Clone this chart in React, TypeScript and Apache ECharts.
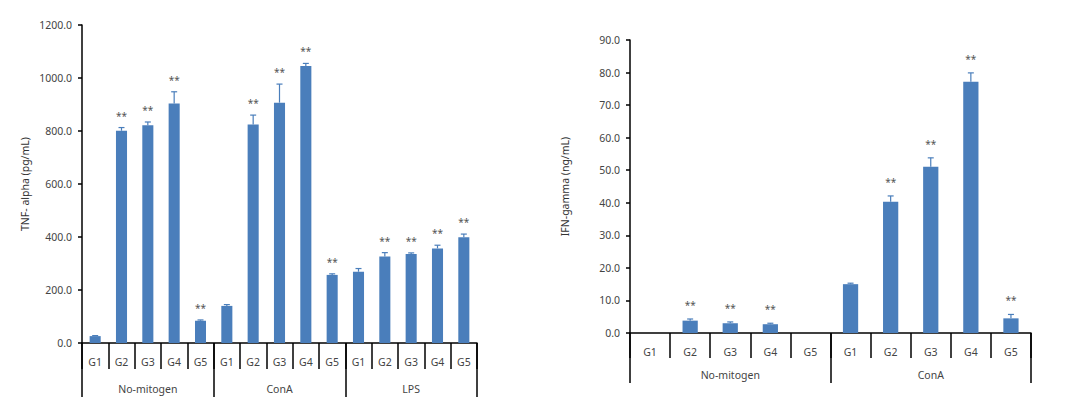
import React, { useEffect, useRef } from "react";
import * as echarts from "echarts";

const groupCats = ["G1", "G2", "G3", "G4", "G5"];
const tnfGroups = ["No-mitogen", "ConA", "LPS"];
const ifnGroups = ["No-mitogen", "ConA"];

// TNF-alpha (pg/mL)
const tnfNoMitogen = [26, 801, 822, 904, 84];
const tnfNoMitogenErr = [2, 12, 12, 44, 3];
const tnfConA = [140, 825, 907, 1045, 257];
const tnfConAErr = [5, 35, 70, 10, 4];
const tnfLPS = [269, 326, 336, 357, 399];
const tnfLPSErr = [12, 15, 4, 12, 12];
const tnfStars = [false, true, true, true, true, false, true, true, true, true, false, true, true, true, true];

// IFN-gamma (ng/mL)
const ifnNoMitogen: (number | null)[] = [null, 3.8, 3.0, 2.7, null];
const ifnNoMitogenErr = [0, 0.5, 0.4, 0.3, 0];
const ifnConA = [15.0, 40.3, 51.1, 77.2, 4.5];
const ifnConAErr = [0.3, 1.8, 2.7, 2.7, 1.2];
const ifnStars = [false, true, true, true, false, false, true, true, true, true];

const BAR = "#4a7ebb";
const FONT = "Noto Sans";

function errSeries(xAxisIndex: number, yAxisIndex: number, vals: (number | null)[], errs: number[], stars: boolean[], off: number) {
  return {
    type: "custom",
    xAxisIndex,
    yAxisIndex,
    encode: { x: 0, y: 1 },
    z: 5,
    data: vals.map((v, i) => [i, v == null ? 0 : v, errs[i], stars[i] ? 1 : 0]),
    renderItem: (params: any, api: any) => {
      const x = api.value(0);
      const v = api.value(1);
      const e = api.value(2);
      const s = api.value(3);
      const base = api.coord([x, v]);
      const top = api.coord([x, v + e]);
      const children: any[] = [];
      if (e > 0) {
        children.push({ type: "line", shape: { x1: base[0], y1: base[1], x2: top[0], y2: top[1] }, style: { stroke: BAR, lineWidth: 1.2 } });
        children.push({ type: "line", shape: { x1: top[0] - 3, y1: top[1], x2: top[0] + 3, y2: top[1] }, style: { stroke: BAR, lineWidth: 1.2 } });
      }
      if (s) {
        children.push({
          type: "text",
          style: { text: "**", x: top[0], y: top[1] - off, align: "center", verticalAlign: "middle", fontSize: 10, fill: "#555", fontFamily: FONT },
        });
      }
      return { type: "group", children };
    },
  };
}

const axisBlack = { color: "#000", width: 1.5 };

export default function App() {
  const ref = useRef<HTMLDivElement>(null);
  useEffect(() => {
    if (!ref.current) return;
    const chart = echarts.init(ref.current, undefined, { renderer: "svg" });
    const tnfAll = [...tnfNoMitogen, ...tnfConA, ...tnfLPS];
    const tnfErrAll = [...tnfNoMitogenErr, ...tnfConAErr, ...tnfLPSErr];
    const ifnAll = [...ifnNoMitogen, ...ifnConA];
    const ifnErrAll = [...ifnNoMitogenErr, ...ifnConAErr];
    const tnfCats = [...groupCats, ...groupCats, ...groupCats];
    const ifnCats = [...groupCats, ...groupCats];
    const labelStyle = { color: "#444", fontSize: 10.5, fontFamily: FONT };
    chart.setOption({
      animation: false,
      backgroundColor: "#fff",
      grid: [
        { left: 82, top: 25, width: 395, height: 318 },
        { left: 630, top: 40, width: 401, height: 293 },
      ],
      xAxis: [
        {
          type: "category", gridIndex: 0, data: tnfCats,
          axisLine: { lineStyle: axisBlack },
          axisTick: { show: true, length: 26, interval: 0, lineStyle: axisBlack },
          axisLabel: { ...labelStyle, margin: 13, interval: 0 },
        },
        {
          type: "category", gridIndex: 0, data: tnfGroups, position: "bottom",
          axisLine: { show: false },
          axisTick: { show: true, length: 54, interval: 0, lineStyle: axisBlack },
          axisLabel: { ...labelStyle, margin: 40, interval: 0 },
        },
        {
          type: "category", gridIndex: 1, data: ifnCats,
          axisLine: { lineStyle: axisBlack },
          axisTick: { show: true, length: 25, interval: 0, lineStyle: axisBlack },
          axisLabel: { ...labelStyle, margin: 13, interval: 0 },
        },
        {
          type: "category", gridIndex: 1, data: ifnGroups, position: "bottom",
          axisLine: { show: false },
          axisTick: { show: true, length: 50, interval: 0, lineStyle: axisBlack },
          axisLabel: { ...labelStyle, margin: 36, interval: 0 },
        },
      ],
      yAxis: [
        {
          type: "value", gridIndex: 0, min: 0, max: 1200, interval: 200,
          name: "TNF- alpha (pg/mL)", nameLocation: "middle", nameRotate: 90, nameGap: 52,
          nameTextStyle: { color: "#333", fontSize: 10.5, fontFamily: FONT },
          axisLine: { show: true, lineStyle: axisBlack },
          axisTick: { show: true, length: 4, lineStyle: axisBlack },
          axisLabel: { ...labelStyle, margin: 10, formatter: (v: number) => v.toFixed(1) },
          splitLine: { show: false },
        },
        {
          type: "value", gridIndex: 1, min: 0, max: 90, interval: 10,
          name: "IFN-gamma (ng/mL)", nameLocation: "middle", nameRotate: 90, nameGap: 60,
          nameTextStyle: { color: "#333", fontSize: 10.5, fontFamily: FONT },
          axisLine: { show: true, lineStyle: axisBlack },
          axisTick: { show: true, length: 4, lineStyle: axisBlack },
          axisLabel: { ...labelStyle, margin: 10, formatter: (v: number) => v.toFixed(1) },
          splitLine: { show: false },
        },
      ],
      series: [
        { type: "bar", xAxisIndex: 0, yAxisIndex: 0, data: tnfAll, barWidth: "42%", itemStyle: { color: BAR } },
        errSeries(0, 0, tnfAll, tnfErrAll, tnfStars, 12),
        { type: "bar", xAxisIndex: 2, yAxisIndex: 1, data: ifnAll, barWidth: "38%", itemStyle: { color: BAR } },
        errSeries(2, 1, ifnAll, ifnErrAll, ifnStars, 14),
      ],
    });
    return () => chart.dispose();
  }, []);
  return <div ref={ref} style={{ position: "absolute", left: 0, top: 0, width: 1067, height: 418 }} />;
}
